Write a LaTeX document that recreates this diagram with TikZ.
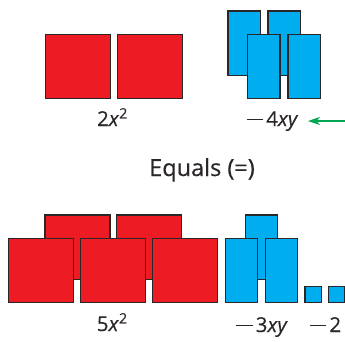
\documentclass[tikz,border=0pt]{standalone}
\usepackage{fontspec}
\setmainfont{Open Sans}[FakeBold=0.35, AutoFakeBold=0.35]
\usetikzlibrary{arrows.meta}
\definecolor{tilered}{HTML}{ED1C24}
\definecolor{tileblue}{HTML}{00AEEF}
\definecolor{tileedge}{HTML}{2B2627}
\definecolor{arrowgreen}{HTML}{00A651}
\newcommand\negsign{\rule[5.6pt]{16.5pt}{1.5pt}\hspace{3pt}}
\tikzset{
  tile/.style={draw=tileedge, line width=1.3pt, anchor=north west, inner sep=0pt, outer sep=0pt},
  bigsq/.style={tile, fill=tilered, minimum width=65pt, minimum height=64.5pt},
  xyrect/.style={tile, fill=tileblue, minimum width=32.3pt, minimum height=64.5pt},
  unitsq/.style={tile, fill=tileblue, minimum width=16.3pt, minimum height=16.3pt},
  lbl/.style={anchor=base, inner sep=0pt, font=\fontsize{20.5}{24}\selectfont\bfseries, text=tileedge},
  biglbl/.style={lbl, font=\fontsize{23.5}{28}\selectfont\bfseries},
}
\begin{document}
\begin{tikzpicture}[x=1pt,y=-1pt]
\useasboundingbox (0,0) rectangle (345,341);
% top row
\node[bigsq] (r1) at (45.7,34.3) {};
\node[bigsq] (r2) at (117.3,34.3) {};
\node[xyrect] (b1) at (228,11) {};
\node[xyrect] (b2) at (268,11) {};
\node[xyrect] (b3) at (247.7,34.3) {};
\node[xyrect] (b4) at (288,34.3) {};
\node[lbl] (l1) at (112.5,126) {2\textit{x}\textsuperscript{2}};
\node[lbl] (l2) at (272.5,126) {\negsign 4\textit{xy}};
\coordinate (ae) at (345,121);
\coordinate (at) at (308,121);
\draw[arrowgreen, line width=1.3pt, -{Stealth[length=12pt,width=8pt,inset=3.5pt]}] (ae) -- (at);
% equals
\node[biglbl] (eq) at (202,176) {Equals (=)};
% bottom row
\node[bigsq] (s1) at (45,215) {};
\node[bigsq] (s2) at (116.7,215) {};
\node[bigsq] (s3) at (8.7,238.3) {};
\node[bigsq] (s4) at (80.7,238.3) {};
\node[bigsq] (s5) at (152.7,238.3) {};
\node[xyrect] (c1) at (245.3,215) {};
\node[xyrect] (c2) at (225.3,238.3) {};
\node[xyrect] (c3) at (265.3,238.3) {};
\node[unitsq] (u1) at (304.9,286.5) {};
\node[unitsq] (u2) at (328.5,286.5) {};
\node[lbl] (l3) at (112.3,331) {5\textit{x}\textsuperscript{2}};
\node[lbl] (l4) at (262,332) {\negsign 3\textit{xy}};
\node[lbl] (l5) at (325.5,332) {\negsign 2};
\end{tikzpicture}
\end{document}
